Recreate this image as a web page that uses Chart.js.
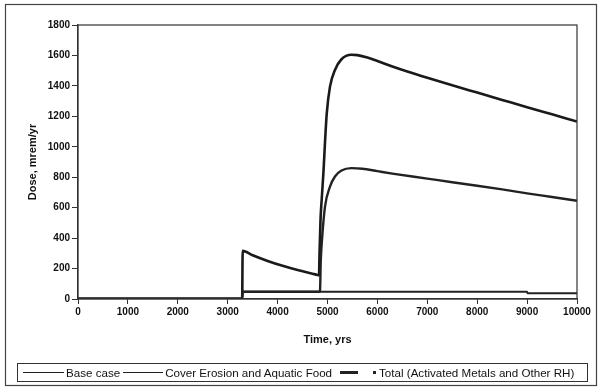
<!DOCTYPE html>
<html>
<head>
<meta charset="utf-8">
<script src="https://cdn.jsdelivr.net/npm/chart.js@4.4.1/dist/chart.umd.min.js"></script>
<style>
  html, body { margin: 0; padding: 0; background: #fff; }
  #wrap { position: relative; width: 603px; height: 390px; }
  #legend {
    position: absolute; left: 17px; top: 363px; width: 571px; height: 19px;
    border: 1px solid #333; box-sizing: border-box; display: flex; align-items: center;
    font: 11.6px "Liberation Sans", Arial, sans-serif; color: #111; white-space: nowrap;
  }
  #legend .ln { display: inline-block; background: #222; }
  #legend .sq { display: inline-block; width: 3px; height: 3px; background: #222; }
</style>
</head>
<body>
<div id="wrap">
  <canvas id="doseChart" width="603" height="390"></canvas>
  <div id="legend"></div>
</div>
<script>
// series (years and doses, mrem/yr)
const seriesNames = ['Base case', 'Cover Erosion and Aquatic Food', 'Total (Activated Metals and Other RH)'];

const baseYears = [0, 3290, 3300, 4840, 4850, 4865, 4890, 4950, 5050, 5150, 5280, 5480, 5700, 6000, 6300, 7000, 7500, 8000, 8500, 9000, 9500, 10000];
const baseDose  = [2, 2, 48, 48, 55, 250, 390, 607, 739, 805, 844, 860, 856, 840, 824, 791, 767, 744, 720, 694, 670, 645];

const erosionYears = [0, 3290, 3300, 3500, 3800, 4100, 4400, 4700, 4800, 4830, 4840, 4860, 4885, 4920, 4950, 4985, 5050, 5150, 5280, 5480, 5600, 5800, 6000, 6300, 6600, 7000, 7500, 8000, 8500, 9000, 9500, 10000];
const erosionDose  = [2, 2, 316, 287, 250, 218, 190, 166, 158, 155, 300, 520, 660, 840, 1030, 1220, 1395, 1505, 1575, 1605, 1602, 1586, 1563, 1527, 1494, 1453, 1404, 1356, 1308, 1260, 1213, 1166];

const totalYears = [0, 3290, 3300, 9000, 9010, 10000];
const totalDose  = [2, 2, 48, 48, 37, 37];

const xTickValues = [0, 1000, 2000, 3000, 4000, 5000, 6000, 7000, 8000, 9000, 10000];
const yTickValues = [0, 200, 400, 600, 800, 1000, 1200, 1400, 1600, 1800];

function pairs(xs, ys) {
  return xs.map((x, i) => ({ x: x, y: ys[i] }));
}

const lineStyles = [
  { width: 2.4, color: '#222' },
  { width: 2.6, color: '#1a1a1a' },
  { width: 2, color: '#222' }
];

// frame around the plot area and the whole chart
const framePlugin = {
  id: 'frame',
  beforeDraw(chart) {
    const c = chart.ctx;
    c.save();
    c.fillStyle = '#fff';
    c.fillRect(0, 0, chart.width, chart.height);
    c.strokeStyle = '#444';
    c.lineWidth = 1.2;
    c.strokeRect(5.5, 4.5, 591, 381);
    c.restore();
  },
  afterDraw(chart) {
    const a = chart.chartArea;
    const c = chart.ctx;
    c.save();
    c.strokeStyle = '#333';
    c.lineWidth = 1.2;
    c.strokeRect(a.left, a.top, a.right - a.left, a.bottom - a.top);
    c.restore();
  }
};

const tickFont = { family: '"Liberation Sans", Arial, sans-serif', size: 10, weight: 'bold' };
const titleFont = { family: '"Liberation Sans", Arial, sans-serif', size: 11, weight: 'bold' };

const chart = new Chart(document.getElementById('doseChart'), {
  type: 'line',
  data: {
    datasets: [
      { label: seriesNames[0], data: pairs(baseYears, baseDose) },
      { label: seriesNames[1], data: pairs(erosionYears, erosionDose) },
      { label: seriesNames[2], data: pairs(totalYears, totalDose) }
    ].map((d, i) => Object.assign(d, {
      borderColor: lineStyles[i].color,
      borderWidth: lineStyles[i].width,
      pointRadius: 0,
      fill: false,
      cubicInterpolationMode: 'monotone'
    }))
  },
  options: {
    responsive: false,
    animation: false,
    layout: { padding: { left: 8, right: 26, top: 25, bottom: 41 } },
    plugins: { legend: { display: false }, tooltip: { enabled: false } },
    scales: {
      x: {
        type: 'linear', min: 0, max: 10000,
        afterBuildTicks(s) { s.ticks = xTickValues.map(v => ({ value: v })); },
        afterFit(s) { s.height = 50; },
        ticks: { font: tickFont, color: '#111', padding: 2, maxRotation: 0, callback: v => String(v) },
        grid: { drawOnChartArea: false, tickLength: 5, color: '#333' },
        border: { color: '#333', width: 1.2 },
        title: { display: true, text: 'Time, yrs', font: titleFont, color: '#111', padding: { top: 4, bottom: 2 } }
      },
      y: {
        type: 'linear', min: 0, max: 1800,
        afterBuildTicks(s) { s.ticks = yTickValues.map(v => ({ value: v })); },
        afterFit(s) { s.width = 70; },
        ticks: { font: tickFont, color: '#111', padding: 2, callback: v => String(v) },
        grid: { drawOnChartArea: false, tickLength: 6, color: '#333' },
        border: { color: '#333', width: 1.2 },
        title: { display: true, text: 'Dose, mrem/yr', font: titleFont, color: '#111', padding: { top: 18, bottom: 4 } }
      }
    }
  },
  plugins: [framePlugin]
});

// legend box below the axis title
const legendEl = document.getElementById('legend');
const legendLayout = [
  { gapBefore: 5, line: 41, lineW: 1.5, gapAfter: 2, square: false },
  { gapBefore: 3, line: 40, lineW: 1.5, gapAfter: 2, square: false },
  { gapBefore: 8, line: 18, lineW: 2.5, gapAfter: 15, square: true }
];
seriesNames.forEach((name, i) => {
  const L = legendLayout[i];
  const ln = document.createElement('span');
  ln.className = 'ln';
  ln.style.width = L.line + 'px';
  ln.style.height = L.lineW + 'px';
  ln.style.marginLeft = L.gapBefore + 'px';
  ln.style.marginRight = L.gapAfter + 'px';
  legendEl.appendChild(ln);
  if (L.square) {
    const sq = document.createElement('span');
    sq.className = 'sq';
    sq.style.marginRight = '3px';
    legendEl.appendChild(sq);
  }
  const t = document.createElement('span');
  t.textContent = name;
  legendEl.appendChild(t);
});
</script>
</body>
</html>
